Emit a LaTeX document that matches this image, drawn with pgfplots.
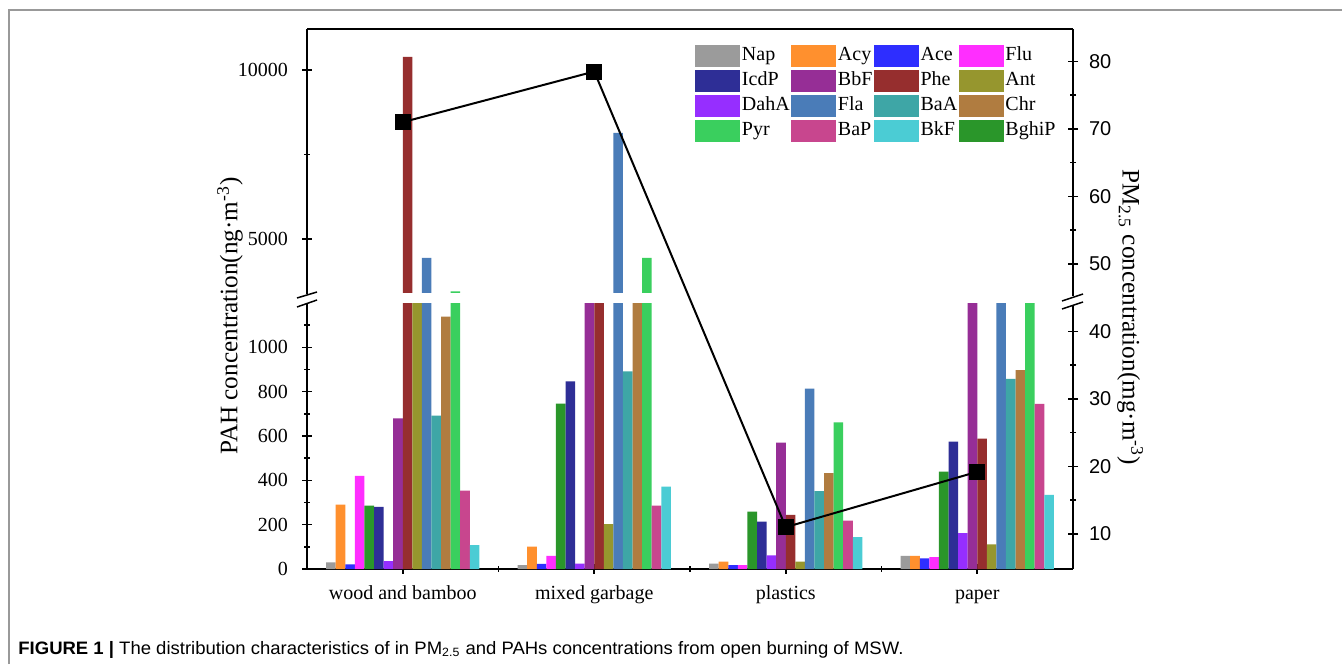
\documentclass[border=0pt]{standalone}
\usepackage{fontspec}
\setmainfont{Liberation Serif}
\setsansfont{Liberation Sans}
\usepackage{graphicx}
\usepackage{pgfplots}
\pgfplotsset{compat=1.18}
\usepackage{pgfplotstable}

\definecolor{cNap}{HTML}{9B9B9B}
\definecolor{cAcy}{HTML}{FF902E}
\definecolor{cAce}{HTML}{2E2EFF}
\definecolor{cFlu}{HTML}{FF2EFF}
\definecolor{cIcdP}{HTML}{2E2E96}
\definecolor{cBbF}{HTML}{962E96}
\definecolor{cPhe}{HTML}{962E2E}
\definecolor{cAnt}{HTML}{96962E}
\definecolor{cDahA}{HTML}{962EFF}
\definecolor{cFla}{HTML}{4A7CB8}
\definecolor{cBaA}{HTML}{3EA6A6}
\definecolor{cChr}{HTML}{B07C40}
\definecolor{cPyr}{HTML}{3ACF5E}
\definecolor{cBaP}{HTML}{C8468E}
\definecolor{cBkF}{HTML}{4BCCD4}
\definecolor{cBghiP}{HTML}{2A962A}

\pgfplotstableread{
x Nap Acy Ace Flu BghiP IcdP DahA BbF Phe Ant Fla BaA Chr Pyr BaP BkF
1 30 290 21 420 286 280 36 679 10385 2000 4437 692 1139 3450 354 108
2 17 101 23 59 746 846 24 2000 2500 203 8135 891 2000 4437 286 372
3 24 33 18 18 259 214 62 570 244 33 814 351 433 662 218 144
4 59 59 48 54 439 575 162 2000 588 111 2000 858 897 2000 745 334
}\pah

\pgfplotstableread{
x pm
1 71.0
2 78.5
3 11.0
4 19.2
}\pmdata

\pgfplotsset{
  mybar/.style={ybar, bar width=0.05, fill=#1, draw=none,
    legend image code/.code={\fill[#1] (0pt,-5.5pt) rectangle (22.5pt,5.5pt);}},
  base/.style={scale only axis, width=383pt, xmin=0.5, xmax=4.5, anchor=south west,
    tick style={line width=0.8pt, black},
    tick align=inside, major tick length=5pt, minor tick length=3pt,
    ticklabel style={font=\fontsize{10}{12}\selectfont},
    /pgf/number format/assume math mode=true,
    /pgf/number format/set thousands separator={},
    scaled ticks=false, clip=true},
  noarrows/.style={axis line style={-, line width=0.8pt},
    x axis line style={-}, y axis line style={-},
    every outer x axis line/.append style={-},
    every outer y axis line/.append style={-},
    every inner x axis line/.append style={-},
    every inner y axis line/.append style={-}},
}

\begin{document}
\begin{tikzpicture}
\path[use as bounding box] (0,0) rectangle (671pt,332pt);
\fill[white] (0,0) rectangle (671pt,332pt);

% lower part
\begin{axis}[base, at={(153.5pt,47.5pt)}, height=133pt, ymin=0, ymax=1200,
  axis x line=bottom, axis y line=left, noarrows,
  xtick={1,2,3,4}, xticklabels={wood and bamboo,mixed garbage,plastics,paper},
  minor xtick={1.5,2.5,3.5},
  ytick={0,200,400,600,800,1000}, minor ytick={100,300,500,700,900,1100},
  yticklabel style={xshift=-3.5pt},
  xticklabel style={yshift=-2pt, text height=7pt, text depth=2pt}]
\addplot[mybar=cNap, bar shift=-0.375] table[x=x,y=Nap]{\pah};
\addplot[mybar=cAcy, bar shift=-0.325] table[x=x,y=Acy]{\pah};
\addplot[mybar=cAce, bar shift=-0.275] table[x=x,y=Ace]{\pah};
\addplot[mybar=cFlu, bar shift=-0.225] table[x=x,y=Flu]{\pah};
\addplot[mybar=cBghiP, bar shift=-0.175] table[x=x,y=BghiP]{\pah};
\addplot[mybar=cIcdP, bar shift=-0.125] table[x=x,y=IcdP]{\pah};
\addplot[mybar=cDahA, bar shift=-0.075] table[x=x,y=DahA]{\pah};
\addplot[mybar=cBbF, bar shift=-0.025] table[x=x,y=BbF]{\pah};
\addplot[mybar=cPhe, bar shift=0.025] table[x=x,y=Phe]{\pah};
\addplot[mybar=cAnt, bar shift=0.075] table[x=x,y=Ant]{\pah};
\addplot[mybar=cFla, bar shift=0.125] table[x=x,y=Fla]{\pah};
\addplot[mybar=cBaA, bar shift=0.175] table[x=x,y=BaA]{\pah};
\addplot[mybar=cChr, bar shift=0.225] table[x=x,y=Chr]{\pah};
\addplot[mybar=cPyr, bar shift=0.275] table[x=x,y=Pyr]{\pah};
\addplot[mybar=cBaP, bar shift=0.325] table[x=x,y=BaP]{\pah};
\addplot[mybar=cBkF, bar shift=0.375] table[x=x,y=BkF]{\pah};
\end{axis}

% upper part
\begin{axis}[base, at={(153.5pt,185pt)}, height=132.5pt, ymin=3370, ymax=11210,
  axis x line=top, axis y line=left, noarrows, xtick=\empty,
  ytick={5000,10000}, minor ytick={7500},
  yticklabel style={xshift=-3.5pt},
  legend columns=4, legend cell align=left,
  legend style={at={(0.5065,0.943)}, anchor=north west, draw=none, fill=none,
    inner sep=0pt, font=\fontsize{10}{12}\selectfont, row sep=1.5pt,
    /tikz/every even column/.append style={column sep=0pt},
    nodes={inner sep=0.8pt, text height=7pt, text depth=2pt}}]
\addplot[mybar=cNap, bar shift=-0.375] table[x=x,y=Nap]{\pah};
\addlegendentry{Nap}
\addplot[mybar=cAcy, bar shift=-0.325] table[x=x,y=Acy]{\pah};
\addlegendentry{Acy}
\addplot[mybar=cAce, bar shift=-0.275] table[x=x,y=Ace]{\pah};
\addlegendentry{Ace}
\addplot[mybar=cFlu, bar shift=-0.225] table[x=x,y=Flu]{\pah};
\addlegendentry{Flu}
\addplot[mybar=cIcdP, bar shift=-0.125] table[x=x,y=IcdP]{\pah};
\addlegendentry{IcdP}
\addplot[mybar=cBbF, bar shift=-0.025] table[x=x,y=BbF]{\pah};
\addlegendentry{BbF}
\addplot[mybar=cPhe, bar shift=0.025] table[x=x,y=Phe]{\pah};
\addlegendentry{Phe}
\addplot[mybar=cAnt, bar shift=0.075] table[x=x,y=Ant]{\pah};
\addlegendentry{Ant}
\addplot[mybar=cDahA, bar shift=-0.075] table[x=x,y=DahA]{\pah};
\addlegendentry{DahA}
\addplot[mybar=cFla, bar shift=0.125] table[x=x,y=Fla]{\pah};
\addlegendentry{Fla}
\addplot[mybar=cBaA, bar shift=0.175] table[x=x,y=BaA]{\pah};
\addlegendentry{BaA}
\addplot[mybar=cChr, bar shift=0.225] table[x=x,y=Chr]{\pah};
\addlegendentry{Chr}
\addplot[mybar=cPyr, bar shift=0.275] table[x=x,y=Pyr]{\pah};
\addlegendentry{Pyr}
\addplot[mybar=cBaP, bar shift=0.325] table[x=x,y=BaP]{\pah};
\addlegendentry{BaP}
\addplot[mybar=cBkF, bar shift=0.375] table[x=x,y=BkF]{\pah};
\addlegendentry{BkF}
\addplot[mybar=cBghiP, bar shift=-0.175] table[x=x,y=BghiP]{\pah};
\addlegendentry{BghiP}
\end{axis}

% blank gap between the two panels
\fill[white] (154.3pt,180.6pt) rectangle (536pt,185.35pt);

% right axis PM2.5
\begin{axis}[base, at={(153.5pt,47.5pt)}, height=270pt, ymin=4.8, ymax=84.8,
  axis y line=right, axis x line=none, noarrows,
  ytick={10,20,30,40,50,60,70,80}, minor ytick={15,25,35,45,55,65,75},
  yticklabel style={font=\sffamily\fontsize{10}{12}\selectfont, xshift=2pt}]
\addplot[black, line width=1pt, mark=square*, mark size=3.5pt,
  mark options={solid, fill=black}] table[x=x,y=pm]{\pmdata};
\end{axis}

% axis breaks
\fill[white] (535pt,179.5pt) rectangle (538pt,184pt);
\draw[line width=0.75pt] (148.5pt,183pt) -- (158.5pt,186pt);
\draw[line width=0.75pt] (148.5pt,178.5pt) -- (158.5pt,182pt);
\draw[line width=0.75pt] (531pt,181.5pt) -- (541.5pt,185pt);
\draw[line width=0.75pt] (531pt,177.5pt) -- (541.5pt,181pt);

% axis titles
\node[rotate=90, font=\fontsize{12.6}{15}\selectfont] at (115pt,174pt)
  {PAH concentration(ng·m\textsuperscript{-3})};
\node[rotate=-90, font=\fontsize{12.6}{15}\selectfont] at (565pt,173.5pt)
  {PM\textsubscript{2.5} concentration(mg·m\textsuperscript{-3})};

% figure frame and caption
\draw[gray!80, line width=0.75pt] (4.5pt,0pt) -- (4.5pt,327pt) -- (671pt,327pt);
\node[anchor=base west, inner sep=0pt, font=\sffamily\fontsize{9}{11}\selectfont]
  at (9pt,5pt) {\resizebox{442.5pt}{\height}{\textbf{FIGURE 1 |} The distribution characteristics of in PM\textsubscript{2.5} and PAHs concentrations from open burning of MSW.}};
\end{tikzpicture}
\end{document}
